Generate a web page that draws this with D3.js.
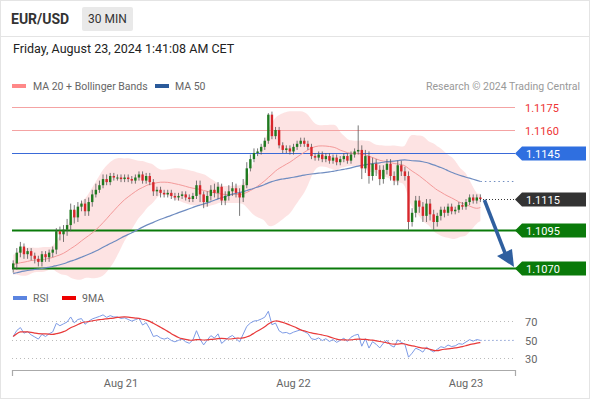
<!DOCTYPE html>
<html><head><meta charset="utf-8">
<script src="https://cdn.jsdelivr.net/npm/d3@7"></script>
<style>body{margin:0;background:#fff;font-family:Roboto,Arial,sans-serif}</style>
</head><body><svg id="c" width="590" height="400"></svg>
<script>
const priorCloses=[1.1052,1.1055,1.1050,1.1058,1.1062,1.1060,1.1057,1.1061,1.1064,1.1059,1.1056,1.1060,1.1063,1.1066,1.1062,1.1058,1.1061,1.1065,1.1068,1.1064,1.1060,1.1063,1.1067,1.1070,1.1066,1.1062,1.1065,1.1069,1.1072,1.1068,1.1064,1.1067,1.1071,1.1074,1.1070,1.1066,1.1069,1.1073,1.1076,1.1072,1.1068,1.1071,1.1075,1.1078,1.1074,1.1070,1.1073,1.1077,1.1075,1.1072];
const closes=[1.1073,1.1080,1.1084,1.1079,1.1081,1.1078,1.1076,1.1074,1.1079,1.1077,1.1080,1.1082,1.1094,1.1092,1.1095,1.1098,1.1108,1.1103,1.1110,1.1112,
1.1107,1.1113,1.1118,1.1121,1.1124,1.1128,1.1126,1.1130,1.1129,1.1129,1.1128,1.1129,1.1128,1.1127,1.1129,1.1131,1.1127,1.1130,1.1126,1.1120,
1.1121,1.1119,1.1118,1.1119,1.1117,1.1116,1.1117,1.1118,1.1116,1.1115,1.1117,1.1124,1.1118,1.1113,1.1117,1.1121,1.1119,1.1123,1.1114,1.1117,
1.1120,1.1122,1.1119,1.1116,1.1124,1.1135,1.1141,1.1145,1.1146,1.1149,1.1153,1.1170,1.1156,1.1160,1.1150,1.1147,1.1148,1.1146,1.1149,1.1151,
1.1153,1.1151,1.1149,1.1143,1.1142,1.1144,1.1141,1.1143,1.1140,1.1142,1.1139,1.1141,1.1143,1.1140,1.1144,1.1146,1.1147,1.1135,1.1143,1.1130,
1.1138,1.1134,1.1128,1.1134,1.1138,1.1130,1.1127,1.1137,1.1133,1.1130,1.1100,1.1106,1.1114,1.1110,1.1104,1.1112,1.1105,1.1100,1.1104,1.1108,
1.1106,1.1110,1.1107,1.1108,1.1111,1.1110,1.1113,1.1116,1.1114,1.1116,1.1115];
// wick extensions in pips (0.0001)
const wickHi=[2,3,3,2,2,2,2,2,2,2,2,2,2,3,3,4,4,3,3,2,3,3,3,4,3,3,3,2,2,2,2,2,2,2,2,2,2,2,2,2,2,2,2,2,2,2,2,2,2,2,2,3,3,2,3,3,4,3,2,3,4,4,3,3,4,4,3,3,2,2,2,1,2,2,2,2,2,2,2,2,2,2,2,2,2,2,2,2,2,2,2,2,2,2,2,2,16,3,4,3,4,3,3,3,3,3,3,3,3,3,3,3,3,3,3,3,3,3,2,2,2,2,2,2,2,2,2,2,2,2,2];
const wickLo=[3,4,3,3,3,3,3,3,3,3,3,3,3,4,5,4,4,4,3,3,3,3,3,2,2,2,2,2,2,2,2,2,2,2,2,2,2,2,2,3,3,3,2,2,2,2,2,2,2,2,2,2,5,4,3,3,3,4,3,3,3,3,3,12,3,2,2,2,2,2,2,2,2,2,2,2,2,2,2,2,2,2,2,2,2,2,2,2,2,2,2,2,2,2,2,2,2,7,3,5,3,4,4,3,3,3,3,3,3,3,5,3,3,4,4,4,4,5,3,3,3,2,2,2,2,2,2,2,2,2,2];
const levels=[{v:1.1175,t:"resR"},{v:1.1160,t:"resR"},{v:1.1145,t:"blue"},{v:1.1115,t:"last"},{v:1.1095,t:"green"},{v:1.1070,t:"green"}];
const rsiTicks=[30,50,70];
const dayTicks=[new Date(2024,7,21),new Date(2024,7,22),new Date(2024,7,23)];
const dayLabels=["Aug 21","Aug 22","Aug 23"];
const startTime=new Date(2024,7,20,9,0);

const svg=d3.select("#c");
svg.append("rect").attr("x",0.5).attr("y",0.5).attr("width",589).attr("height",398).attr("fill","#fff").attr("stroke","#e4e4e4");
svg.append("line").attr("x1",0).attr("x2",590).attr("y1",36.5).attr("y2",36.5).attr("stroke","#e4e4e4");
svg.append("text").attr("x",11).attr("y",24).attr("font-size",14).attr("font-weight","bold").attr("fill","#333").text("EUR/USD");
svg.append("rect").attr("x",82).attr("y",7).attr("width",51).attr("height",24).attr("fill","#e9e9e9").attr("rx",2);
svg.append("text").attr("x",107.5).attr("y",23).attr("font-size",12).attr("text-anchor","middle").attr("fill","#333").text("30 MIN");
svg.append("text").attr("x",13).attr("y",53).attr("font-size",12.5).attr("fill","#222").text("Friday, August 23, 2024 1:41:08 AM CET");

svg.append("rect").attr("x",12).attr("y",84).attr("width",14).attr("height",4).attr("fill","#f88");
svg.append("text").attr("x",33).attr("y",90).attr("font-size",10.5).attr("fill","#666").text("MA 20 + Bollinger Bands");
svg.append("rect").attr("x",155).attr("y",84).attr("width",14).attr("height",4).attr("fill","#2a5a9a");
svg.append("text").attr("x",175).attr("y",90).attr("font-size",10.5).attr("fill","#666").text("MA 50");
svg.append("text").attr("x",580).attr("y",90).attr("font-size",10.5).attr("fill","#999").attr("text-anchor","end").text("Research © 2024 Trading Central");

const times=closes.map((c,i)=>new Date(+startTime+i*1800000));
const x=d3.scaleTime().domain([new Date(2024,7,21),new Date(2024,7,23)]).range([121,466]);
const y=d3.scaleLinear().domain([1.1070,1.1175]).range([268,107]);
const all=priorCloses.concat(closes), P=priorCloses.length;
const ma=(n,i)=>d3.mean(all.slice(i-n+1,i+1));
const sd=(n,i)=>d3.deviation(all.slice(i-n+1,i+1));
const ind=closes.map((c,k)=>{const i=k+P;const m=ma(20,i),s=sd(20,i);return {t:times[k],m20:m,up:m+2*s,lo:m-2*s,m50:ma(50,i)};});

svg.append("path").datum(ind).attr("fill","#fde0e0").attr("opacity",0.9)
 .attr("d",d3.area().curve(d3.curveBasis).x(d=>x(d.t)).y0(d=>y(d.lo)).y1(d=>y(d.up)));

const L0=12,L1=515;
levels.forEach(l=>{
  const yy=Math.round(y(l.v))+0.5;
  if(l.t==="resR"){svg.append("line").attr("x1",L0).attr("x2",L1).attr("y1",yy).attr("y2",yy).attr("stroke","#f4a3a3").attr("stroke-width",1.2);
    svg.append("text").attr("x",525).attr("y",yy+4).attr("font-size",11).attr("fill","#e33").text(l.v.toFixed(4));}
  else {
    let col=l.t==="blue"?"#2f6fe0":l.t==="green"?"#0a7a0a":"#333";
    if(l.t==="blue") svg.append("line").attr("x1",L0).attr("x2",L1).attr("y1",yy).attr("y2",yy).attr("stroke","#3a6ad8").attr("stroke-width",1.2);
    if(l.t==="green") svg.append("line").attr("x1",L0).attr("x2",L1+3).attr("y1",yy).attr("y2",yy).attr("stroke",col).attr("stroke-width",2);
    if(l.t==="last") svg.append("line").attr("x1",480).attr("x2",L1).attr("y1",yy).attr("y2",yy).attr("stroke","#333").attr("stroke-dasharray","1,2");
    svg.append("path").attr("d",`M515,${yy} L522,${yy-7} L586,${yy-7} L586,${yy+7} L522,${yy+7} Z`).attr("fill",col);
    svg.append("text").attr("x",526).attr("y",yy+4).attr("font-size",11).attr("fill","#fff").text(l.v.toFixed(4));
  }
});

svg.append("path").datum(ind).attr("fill","none").attr("stroke","#f49a9a").attr("stroke-width",1)
 .attr("d",d3.line().curve(d3.curveBasis).x(d=>x(d.t)).y(d=>y(d.m20)));
svg.append("path").datum(ind).attr("fill","none").attr("stroke","#6f8cc0").attr("stroke-width",1.2)
 .attr("d",d3.line().curve(d3.curveBasis).x(d=>x(d.t)).y(d=>y(d.m50)));
const lastM50=ind[ind.length-1];
svg.append("line").attr("x1",x(lastM50.t)).attr("x2",L1).attr("y1",y(lastM50.m50)).attr("y2",y(lastM50.m50)).attr("stroke","#6f8cc0").attr("stroke-dasharray","1.5,3");

const cw=2.4;
const cd=closes.map((c,i)=>{const o=i?closes[i-1]:c-0.0003;return {t:times[i],o,c,h:Math.max(o,c)+wickHi[i]*0.0001,l:Math.min(o,c)-wickLo[i]*0.0001};});
const g=svg.append("g");
cd.forEach(d=>{
  const col=d.c>=d.o?"#1f7a1f":"#d7262b";
  const cx=x(d.t);
  g.append("line").attr("x1",cx).attr("x2",cx).attr("y1",y(d.h)).attr("y2",y(d.l)).attr("stroke","#555").attr("stroke-width",0.8);
  const top=y(Math.max(d.o,d.c)),bot=y(Math.min(d.o,d.c));
  g.append("rect").attr("x",cx-cw/2).attr("y",top).attr("width",cw).attr("height",Math.max(1,bot-top)).attr("fill",col);
});

// arrow
const ax1=x(times[times.length-1])+4, ay1=y(1.1115)+1, ax2=512, ay2=y(1.1070)-3;
svg.append("line").attr("x1",ax1).attr("y1",ay1).attr("x2",505).attr("y2",253).attr("stroke","#2f5f9f").attr("stroke-width",3.5);
svg.append("path").attr("d",`M${ax2+2},${ay2+2} L497,256 L512,249 Z`).attr("fill","#2f5f9f");

// RSI
const rsi=[];let ag=0,al=0;
for(let i=1;i<all.length;i++){const ch=all[i]-all[i-1];const gn=Math.max(ch,0),ls=Math.max(-ch,0);
 if(i<=14){ag+=gn/14;al+=ls/14;}else{ag=(ag*13+gn)/14;al=(al*13+ls)/14;}
 if(i>=P) rsi.push(al===0?100:100-100/(1+ag/al));}
const rsiD=closes.map((c,k)=>({t:times[k],r:rsi[k]}));
const ma9=rsiD.map((d,k)=>({t:d.t,r:d3.mean(rsi.slice(Math.max(0,k-8),k+1))}));
const yr=d3.scaleLinear().domain([30,70]).range([358,321]);
svg.append("rect").attr("x",13).attr("y",296).attr("width",14).attr("height",4).attr("fill","#5b84e0");
svg.append("text").attr("x",33).attr("y",302).attr("font-size",10.5).attr("fill","#666").text("RSI");
svg.append("rect").attr("x",62).attr("y",296).attr("width",14).attr("height",4).attr("fill","#e00");
svg.append("text").attr("x",82).attr("y",302).attr("font-size",10.5).attr("fill","#666").text("9MA");
rsiTicks.forEach(v=>{const yy=Math.round(yr(v))+0.5;
 svg.append("line").attr("x1",L0).attr("x2",L1).attr("y1",yy).attr("y2",yy).attr("stroke","#bbb").attr("stroke-dasharray","1,3");
 svg.append("text").attr("x",525).attr("y",yy+4).attr("font-size",11).attr("fill","#666").text(v);});
svg.append("path").datum(rsiD).attr("fill","none").attr("stroke","#7d9be6").attr("stroke-width",1).attr("d",d3.line().x(d=>x(d.t)).y(d=>yr(d.r)));
svg.append("path").datum(ma9).attr("fill","none").attr("stroke","#e83a3a").attr("stroke-width",1.2).attr("d",d3.line().curve(d3.curveBasis).x(d=>x(d.t)).y(d=>yr(d.r)));
const lr=rsiD[rsiD.length-1];
svg.append("line").attr("x1",x(lr.t)).attr("x2",L1).attr("y1",yr(lr.r)).attr("y2",yr(lr.r)).attr("stroke","#9fb4ea").attr("stroke-dasharray","1.5,2.5");

const ax=svg.append("g").attr("transform","translate(0,370)");
ax.append("path").attr("d","M12.5,6 L12.5,0.5 L515.5,0.5 L515.5,6").attr("fill","none").attr("stroke","#aaa").attr("stroke-width",1.2);
dayTicks.forEach((t,i)=>ax.append("text").attr("x",x(t)).attr("y",17).attr("text-anchor","middle").attr("font-size",11).attr("fill","#666").text(dayLabels[i]));
</script></body></html>
